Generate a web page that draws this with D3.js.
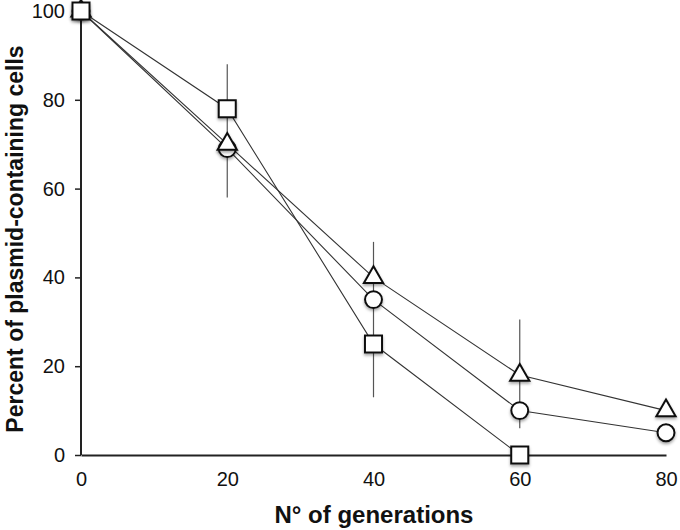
<!DOCTYPE html>
<html><head><meta charset="utf-8">
<script src="https://cdn.jsdelivr.net/npm/d3@7"></script>
<style>
html,body{margin:0;padding:0;background:#fff;}
text{font-family:"Liberation Sans",Arial,Helvetica,sans-serif;fill:#111;}
</style></head>
<body>
<svg id="chart" width="680" height="530"></svg>
<script>
const generations = [0, 20, 40, 60, 80];
const squareVals = [100, 78, 25, 0, null];
const triangleVals = [100, 70, 40, 18, 10];
const circleVals = [100, 69, 35, 10, 5];
const errLow = [null, 58, 13, 6, null];
const errHigh = [null, 88, 48, 30.5, null];
const xTicks = [0, 20, 40, 60, 80];
const yTicks = [0, 20, 40, 60, 80, 100];

const svg = d3.select("#chart");
const x = d3.scaleLinear().domain([0, 80]).range([81, 666]);
const y = d3.scaleLinear().domain([0, 100]).range([455, 11]);

const defs = svg.append("defs");
const f = defs.append("filter").attr("id", "sh").attr("x", "-50%").attr("y", "-50%").attr("width", "200%").attr("height", "200%");
f.append("feDropShadow").attr("dx", 0).attr("dy", 2).attr("stdDeviation", 1.5).attr("flood-color", "#000").attr("flood-opacity", 0.35);

// Y axis
const yAxis = d3.axisLeft(y).tickValues(yTicks).tickSize(6).tickPadding(10).tickFormat(d3.format("d"));
const gy = svg.append("g").attr("transform", "translate(81,0)").call(yAxis);
gy.select(".domain").attr("stroke", "#222").attr("stroke-width", 2).attr("d", `M0,${y(0)}V${y(100)}`);
gy.selectAll(".tick line").attr("stroke", "#222").attr("stroke-width", 1.5);
gy.selectAll(".tick text").attr("font-size", 20).attr("font-family", "Liberation Sans, Arial, sans-serif").attr("fill", "#111");

// X axis (no ticks)
const xAxis = d3.axisBottom(x).tickValues(xTicks).tickSize(0).tickPadding(17).tickFormat(d3.format("d"));
const gx = svg.append("g").attr("transform", `translate(0,${y(0)})`).call(xAxis);
gx.select(".domain").attr("stroke", "#222").attr("stroke-width", 2);
gx.selectAll(".tick text").attr("font-size", 20).attr("font-family", "Liberation Sans, Arial, sans-serif").attr("fill", "#111");

// Axis titles
svg.append("text").attr("x", 374).attr("y", 523).attr("text-anchor", "middle")
  .attr("font-size", 24).attr("font-weight", "bold").text("N° of generations");
svg.append("text").attr("transform", "translate(23,239) rotate(-90)").attr("text-anchor", "middle")
  .attr("font-size", 23).attr("font-weight", "bold").text("Percent of plasmid-containing cells");

// Error bars
const eb = generations.map((g, i) => ({g, lo: errLow[i], hi: errHigh[i]})).filter(d => d.lo !== null);
svg.append("g").selectAll("line").data(eb).join("line")
  .attr("x1", d => x(d.g)).attr("x2", d => x(d.g))
  .attr("y1", d => y(d.lo)).attr("y2", d => y(d.hi))
  .attr("stroke", "#555").attr("stroke-width", 1.2);

// Lines
const series = [
  {name: "circle", vals: circleVals},
  {name: "triangle", vals: triangleVals},
  {name: "square", vals: squareVals}
];
const line = d3.line().defined(d => d.v !== null).x(d => x(d.g)).y(d => y(d.v));
series.forEach(s => {
  const pts = generations.map((g, i) => ({g, v: s.vals[i]}));
  svg.append("path").datum(pts).attr("d", line).attr("fill", "none").attr("stroke", "#333").attr("stroke-width", 1.1);
});

// Markers
const sym = {circle: d3.symbolCircle, triangle: d3.symbolTriangle, square: d3.symbolSquare};
const sizes = {circle: 225, triangle: 160, square: 290};
series.forEach(s => {
  const pts = generations.map((g, i) => ({g, v: s.vals[i]})).filter(d => d.v !== null);
  svg.append("g").selectAll("path").data(pts).join("path")
    .attr("d", d3.symbol().type(sym[s.name]).size(sizes[s.name]))
    .attr("transform", d => `translate(${x(d.g)},${y(d.v)})`)
    .attr("fill", "#fff").attr("stroke", "#111").attr("stroke-width", 2)
    .attr("filter", "url(#sh)");
});
</script>
</body></html>
